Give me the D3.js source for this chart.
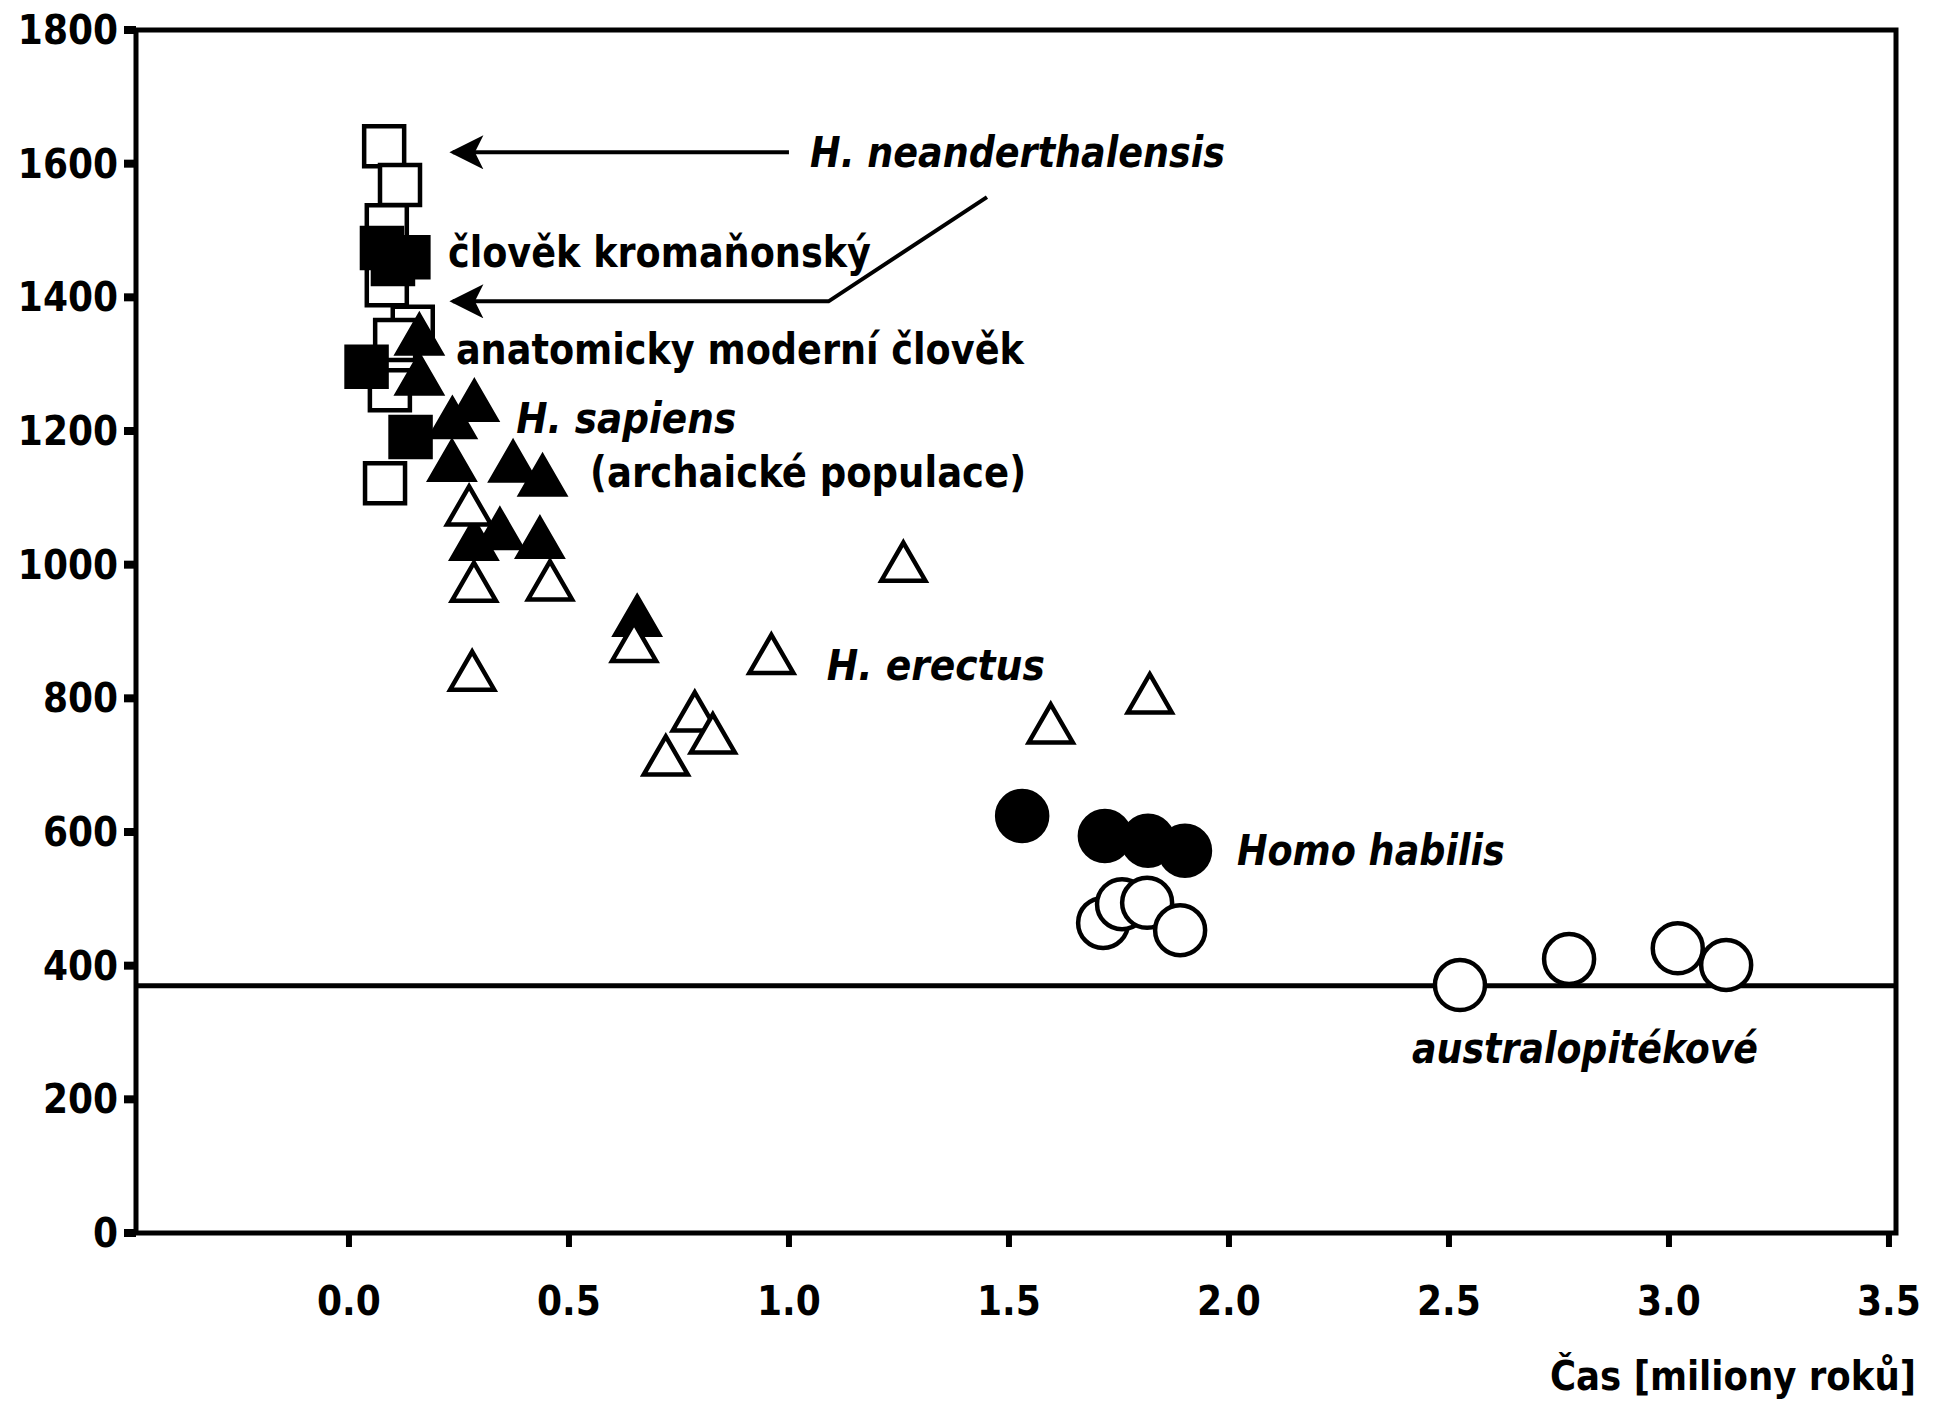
<!DOCTYPE html>
<html>
<head>
<meta charset="utf-8">
<script src="https://cdn.jsdelivr.net/npm/d3@7"></script>
<style>
  html,body{margin:0;padding:0;background:#fff;}
  svg text{font-family:"Liberation Sans Narrow","DejaVu Sans Condensed","Liberation Sans",sans-serif;font-weight:bold;fill:#000;}
</style>
</head>
<body>
<svg id="chart" width="1934" height="1402"></svg>
<script>
// data: [time in Ma, brain volume in cm3]
var neanderthalOpen=[[0.08,1626],[0.116,1568],[0.086,1508],[0.086,1418],[0.145,1356],[0.105,1336],[0.093,1261],[0.082,1122]];
var cromagnonFilled=[[0.075,1474],[0.135,1460],[0.10,1450]];
var modernFilled=[[0.04,1296],[0.14,1191]];
var sapiensFilled=[[0.16,1335],[0.16,1275],[0.235,1210],[0.285,1236],[0.234,1146],[0.373,1145],[0.44,1124],
  [0.284,1028],[0.343,1044],[0.434,1031],[0.655,914]];
var erectusOpen=[[0.273,1079],[0.284,965],[0.457,967],[0.648,875],[0.28,832],[1.26,995],[0.96,857],
  [0.786,771],[0.827,738],[0.72,705],[1.595,753],[1.82,798]];
var habilisFilled=[[1.53,624],[1.718,594],[1.816,587],[1.90,572]];
var habilisOpen=[[1.714,464],[1.757,492],[1.814,494],[1.889,453]];
var australoOpen=[[2.525,371],[2.773,410],[3.02,426],[3.13,401]];

var xTicks=[0.0,0.5,1.0,1.5,2.0,2.5,3.0,3.5];
var yTicks=[0,200,400,600,800,1000,1200,1400,1600,1800];
var limitLine=370;

// labels: text, x, baseline y (data units), width in px, italic
var labels=[
  {t:"H. neanderthalensis", x:1.048, y:1595, w:415, it:true},
  {t:"člověk kromaňonský", x:0.225, y:1445, w:423, it:false},
  {t:"anatomicky moderní člověk", x:0.243, y:1300, w:568, it:false},
  {t:"H. sapiens", x:0.38, y:1197, w:220, it:true},
  {t:"(archaické populace)", x:0.548, y:1116, w:436, it:false},
  {t:"H. erectus", x:1.086, y:827, w:218, it:true},
  {t:"Homo habilis", x:2.018, y:550, w:268, it:true},
  {t:"australopitékové", x:2.416, y:255, w:346, it:true}
];
var arrows=[
  [[1.0,1617],[0.236,1617]],
  [[1.45,1550],[1.09,1394],[0.236,1394]]
];

var svg=d3.select("#chart");
var x=d3.scaleLinear().domain([-0.484,3.516]).range([136,1896]);
var y=d3.scaleLinear().domain([0,1800]).range([1233,30]);

svg.append("rect").attr("width",1934).attr("height",1402).attr("fill","#fff");

// frame
svg.append("rect")
  .attr("x",x(-0.484)).attr("y",y(1800))
  .attr("width",x(3.516)-x(-0.484)).attr("height",y(0)-y(1800))
  .attr("fill","none").attr("stroke","#000").attr("stroke-width",5);

// y ticks
svg.selectAll(".ytick").data(yTicks).enter().append("rect")
  .attr("x",x(-0.484)-12).attr("y",function(d){return y(d)-4;})
  .attr("width",12).attr("height",8).attr("fill","#000");
svg.selectAll(".ylab").data(yTicks).enter().append("text")
  .attr("x",118).attr("y",function(d){return y(d)+14;})
  .attr("text-anchor","end").attr("font-size","40px")
  .text(function(d){return d;});

// x ticks
svg.selectAll(".xtick").data(xTicks).enter().append("rect")
  .attr("x",function(d){return x(d)-3;}).attr("y",y(0))
  .attr("width",6).attr("height",14).attr("fill","#000");
svg.selectAll(".xlab").data(xTicks).enter().append("text")
  .attr("x",function(d){return x(d);}).attr("y",1315)
  .attr("text-anchor","middle").attr("font-size","40px")
  .text(function(d){return d.toFixed(1);});
svg.append("text").attr("x",1916).attr("y",1390).attr("text-anchor","end")
  .attr("font-size","40px").attr("textLength",366).attr("lengthAdjust","spacingAndGlyphs")
  .text("Čas [miliony roků]");

// horizontal limit line
svg.append("line")
  .attr("x1",x(-0.484)).attr("x2",x(3.516))
  .attr("y1",y(limitLine)).attr("y2",y(limitLine))
  .attr("stroke","#000").attr("stroke-width",5);

// arrows
svg.append("defs").append("marker")
  .attr("id","head").attr("viewBox","0 0 10 10").attr("refX",9).attr("refY",5)
  .attr("markerUnits","userSpaceOnUse").attr("markerWidth",40).attr("markerHeight",34)
  .attr("orient","auto")
  .append("path").attr("d","M0,0 L10,5 L0,10 L2.5,5 Z").attr("fill","#000");
var line=d3.line().x(function(d){return x(d[0]);}).y(function(d){return y(d[1]);});
svg.selectAll(".arrow").data(arrows).enter().append("path")
  .attr("d",line).attr("fill","none").attr("stroke","#000").attr("stroke-width",4)
  .attr("marker-end","url(#head)");

// markers
var sq=d3.symbol().type(d3.symbolSquare).size(40*40);
var tri=d3.symbol().type(d3.symbolTriangle).size(840);
var circ=d3.symbol().type(d3.symbolCircle).size(Math.PI*25*25);
function drawSet(data,sym,filled){
  svg.append("g").selectAll("path").data(data).enter().append("path")
    .attr("d",sym)
    .attr("transform",function(d){return "translate("+x(d[0])+","+y(d[1])+")";})
    .attr("fill",filled?"#000":"#fff")
    .attr("stroke","#000").attr("stroke-width",4.5);
}
drawSet(neanderthalOpen,sq,false);
drawSet(cromagnonFilled,sq,true);
drawSet(modernFilled,sq,true);
drawSet(sapiensFilled,tri,true);
drawSet(erectusOpen,tri,false);
drawSet(habilisFilled,circ,true);
drawSet(habilisOpen,circ,false);
drawSet(australoOpen,circ,false);

// species labels
svg.selectAll(".lab").data(labels).enter().append("text")
  .attr("x",function(d){return x(d.x);}).attr("y",function(d){return y(d.y);})
  .attr("font-size","42px")
  .attr("font-style",function(d){return d.it?"italic":"normal";})
  .attr("textLength",function(d){return d.w;}).attr("lengthAdjust","spacingAndGlyphs")
  .text(function(d){return d.t;});
</script>
</body>
</html>
